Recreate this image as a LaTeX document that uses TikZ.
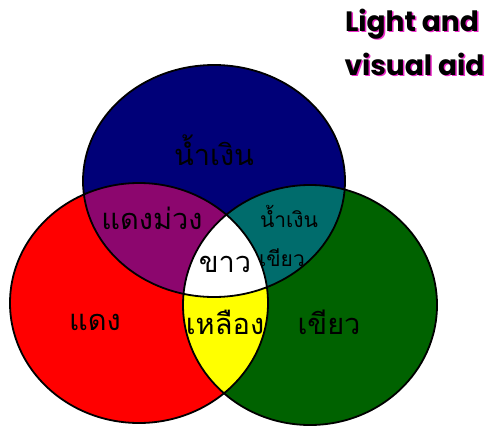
\documentclass[tikz,border=0pt]{standalone}
\usepackage{fontspec}
\newfontfamily\thaifont[Script=Thai]{Loma}
\newfontfamily\titlefont{Poppins}
\definecolor{cblue}{RGB}{0,0,120}
\definecolor{cred}{RGB}{255,0,0}
\definecolor{cgreen}{RGB}{0,98,0}
\definecolor{cpurple}{RGB}{140,6,110}
\definecolor{cteal}{RGB}{0,108,108}
\definecolor{cyel}{RGB}{255,255,0}
\definecolor{cshadow}{RGB}{235,40,200}
\begin{document}
\begin{tikzpicture}[x=1pt,y=-1pt,
  thai/.style={font=\thaifont\fontsize{#1}{#1}\selectfont, text=black, inner sep=0pt},
  ttl/.style={font=\titlefont\bfseries\fontsize{28}{28}\selectfont, inner sep=0pt, anchor=east},
  outline/.style={draw=black, line width=1.8pt}]
\useasboundingbox[fill=white] (0,0) rectangle (486,425);
\def\Blue{(214,181) ellipse [x radius=131, y radius=116]}
\def\Red{(139,303) ellipse [x radius=129, y radius=120]}
\def\Green{(310,305) ellipse [x radius=127, y radius=120]}
\fill[cred] \Red;
\fill[cgreen] \Green;
\fill[cblue] \Blue;
\begin{scope}
  \clip \Red;
  \fill[cpurple] \Blue;
\end{scope}
\begin{scope}
  \clip \Green;
  \fill[cteal] \Blue;
\end{scope}
\begin{scope}
  \clip \Red;
  \fill[cyel] \Green;
\end{scope}
\begin{scope}
  \clip \Red;
  \clip \Green;
  \fill[white] \Blue;
\end{scope}
\draw[outline] \Blue;
\draw[outline] \Red;
\draw[outline] \Green;
\node[thai=29] (nblue) at (214,150) {น้ำเงิน};
\node[thai=29] (npurple) at (152,218) {แดงม่วง};
\node[thai=21] (nteal1) at (289,216) {น้ำเงิน};
\node[thai=21] (nteal2) at (282,258) {เขียว};
\node[thai=29] (nwhite) at (225,264) {ขาว};
\node[thai=29] (nred) at (95,322) {แดง};
\node[thai=29] (nyel) at (225,322) {เหลือง};
\node[thai=29] (ngreen) at (329,322) {เขียว};
\node[ttl, text=cshadow] (t1s) at (480.5,25.5) {Light and};
\node[ttl, text=black] (t1) at (479,24) {Light and};
\node[ttl, text=cshadow] (t2s) at (486,65.5) {visual aid};
\node[ttl, text=black] (t2) at (484.5,64) {visual aid};
\end{tikzpicture}
\end{document}
